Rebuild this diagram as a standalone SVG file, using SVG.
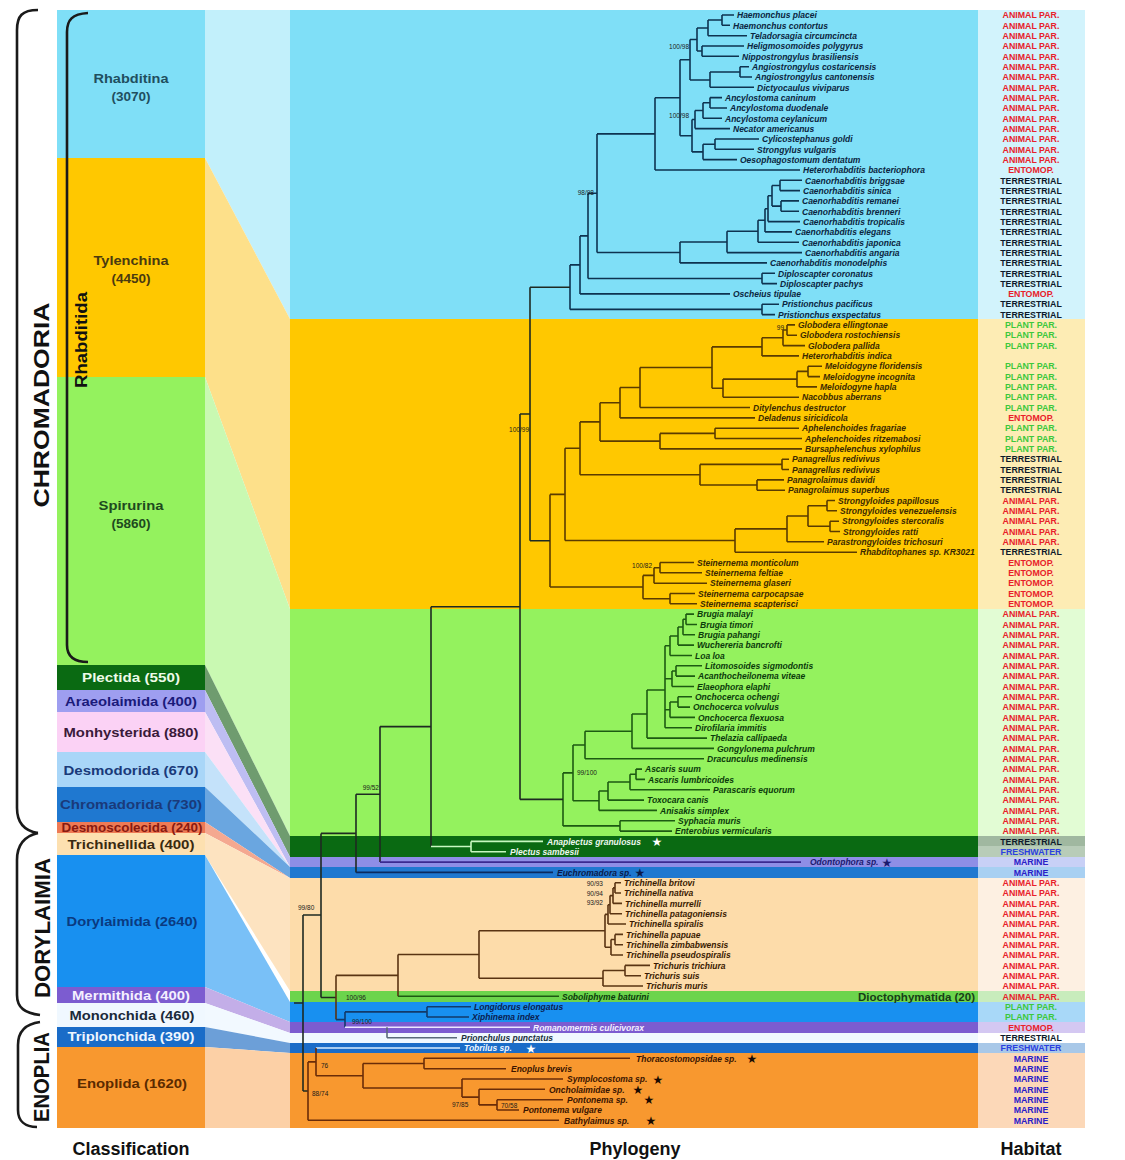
<svg xmlns="http://www.w3.org/2000/svg" width="1125" height="1160" viewBox="0 0 1125 1160">
<style>
text{font-family:"Liberation Sans",Arial,sans-serif}
.lf{font-style:italic;font-weight:bold;font-size:8.5px}
.bl{fill:#0a2540}.go{fill:#3a2800}.gr{fill:#0a3a0a}.tc{fill:#3a1a00}.en{fill:#3a1400}.wh{fill:#eef8ee}
.hb{font-weight:bold;font-size:8.8px;text-anchor:middle}
.a{fill:#e8202a}.t{fill:#0d1a2a}.p{fill:#3cc83c}.f{fill:#2a40e0}.m{fill:#2a20c8}
.cl{font-weight:bold;font-size:13.5px;text-anchor:middle}
.big{font-weight:bold;font-size:22px;text-anchor:middle;fill:#111}
.ft{font-weight:bold;font-size:18px;text-anchor:middle;fill:#111}
.bs{font-size:6.5px;fill:#1a1a1a}
.st{font-family:"DejaVu Sans",sans-serif;font-size:12px;text-anchor:middle}
.br{fill:none;stroke:#1a1a1a;stroke-width:2.6}
.tr path{fill:none;stroke-width:1.6}
</style>

<g id="classification-bands">
<rect x="57" y="10" width="148" height="148" fill="#7fdff7"/>
<rect x="57" y="158" width="148" height="219" fill="#ffc800"/>
<rect x="57" y="377" width="148" height="288" fill="#94f25e"/>
<rect x="57" y="665" width="148" height="25" fill="#0a6a12"/>
<rect x="57" y="690" width="148" height="22" fill="#9e9ef0"/>
<rect x="57" y="712" width="148" height="40" fill="#fbd2f5"/>
<rect x="57" y="752" width="148" height="35" fill="#a9d6f8"/>
<rect x="57" y="787" width="148" height="35" fill="#1f78d0"/>
<rect x="57" y="822" width="148" height="11" fill="#ee7a55"/>
<rect x="57" y="833" width="148" height="22" fill="#fde0b0"/>
<rect x="57" y="855" width="148" height="132" fill="#1890f0"/>
<rect x="57" y="987" width="148" height="16" fill="#7c5cd0"/>
<rect x="57" y="1003" width="148" height="24" fill="#f0f8ff"/>
<rect x="57" y="1027" width="148" height="20" fill="#1a6cc8"/>
<rect x="57" y="1047" width="148" height="81" fill="#f8982f"/>
</g>

<g id="transition">
<polygon points="205,10 290,10 290,319 205,158" fill="#c2f0fb"/>
<polygon points="205,158 290,319 290,609 205,377" fill="#fde08a"/>
<polygon points="205,377 290,609 290,836 205,665" fill="#c9f9b2"/>
<polygon points="205,665 290,836 290,857 205,690" fill="#6f9c6f"/>
<polygon points="205,690 290,857 290,867 205,712" fill="#bdbdf2"/>
<polygon points="205,712 290,867 205,752" fill="#fbe0f6"/>
<polygon points="205,752 290,867 205,787" fill="#c4e2fa"/>
<polygon points="205,787 290,867 290,878 205,822" fill="#6aa6e0"/>
<polygon points="205,822 290,878 205,833" fill="#f4a890"/>
<polygon points="205,833 290,878 290,991 205,855" fill="#fde3c0"/>
<polygon points="205,855 290,1002 290,1022 205,987" fill="#79c0f7"/>
<polygon points="205,987 290,1022 290,1033 205,1003" fill="#c3aee8"/>
<polygon points="205,1003 290,1033 290,1043 205,1027" fill="#f2f9ff"/>
<polygon points="205,1027 290,1043 290,1053 205,1047" fill="#6c9fd8"/>
<polygon points="205,1047 290,1053 290,1128 205,1128" fill="#fcd0a6"/>
</g>

<g id="phylogeny-bands">
<rect x="290" y="10" width="688" height="309" fill="#7fdff7"/>
<rect x="290" y="319" width="688" height="290" fill="#ffc800"/>
<rect x="290" y="609" width="688" height="227" fill="#94f25e"/>
<rect x="290" y="836" width="688" height="21" fill="#0a6a12"/>
<rect x="290" y="857" width="688" height="10" fill="#8e8ee6"/>
<rect x="290" y="867" width="688" height="11" fill="#1f78d0"/>
<rect x="290" y="878" width="688" height="113" fill="#fddcaa"/>
<rect x="290" y="991" width="688" height="11" fill="#6cd44c"/>
<rect x="290" y="1002" width="688" height="20" fill="#1890f0"/>
<rect x="290" y="1022" width="688" height="11" fill="#7c5cd0"/>
<rect x="290" y="1033" width="688" height="10" fill="#f0f8ff"/>
<rect x="290" y="1043" width="688" height="10" fill="#1a6cc8"/>
<rect x="290" y="1053" width="688" height="75" fill="#f8982f"/>
</g>

<g id="habitat-bands">
<rect x="978" y="10" width="107" height="309" fill="#d2f3fc"/>
<rect x="978" y="319" width="107" height="290" fill="#fdecb4"/>
<rect x="978" y="609" width="107" height="227" fill="#e2fcd4"/>
<rect x="978" y="836" width="107" height="10" fill="#a0b8a0"/>
<rect x="978" y="846" width="107" height="11" fill="#b8ccb8"/>
<rect x="978" y="857" width="107" height="10" fill="#c8d0f6"/>
<rect x="978" y="867" width="107" height="11" fill="#a8d0f2"/>
<rect x="978" y="878" width="107" height="113" fill="#fdf0e2"/>
<rect x="978" y="991" width="107" height="11" fill="#c8ecbc"/>
<rect x="978" y="1002" width="107" height="20" fill="#a8d8f8"/>
<rect x="978" y="1022" width="107" height="11" fill="#d4c8f2"/>
<rect x="978" y="1033" width="107" height="10" fill="#ffffff"/>
<rect x="978" y="1043" width="107" height="10" fill="#a8c8e8"/>
<rect x="978" y="1053" width="107" height="75" fill="#fcd8b8"/>
</g>

<g id="brackets">
<path class="br" d="M38,10 C22,10 17,16 17,30 L17,808 C17,824 25,831 38,833"/>
<path class="br" d="M38,833 C25,836 17,844 17,860 L17,995 C17,1008 25,1013 40,1015"/>
<path class="br" d="M40,1022 C25,1024 18,1032 18,1045 L18,1110 C18,1121 25,1127 37,1127"/>
<path class="br" d="M88,13 C72,14 67,20 67,32 L67,645 C67,656 73,662 88,662"/>
<text class="big" transform="translate(49,405) rotate(-90)" textLength="205" lengthAdjust="spacingAndGlyphs">CHROMADORIA</text>
<text class="big" transform="translate(50,928) rotate(-90)" textLength="140" lengthAdjust="spacingAndGlyphs">DORYLAIMIA</text>
<text class="big" transform="translate(49,1077) rotate(-90)" textLength="90" lengthAdjust="spacingAndGlyphs">ENOPLIA</text>
<text transform="translate(87,340) rotate(-90)" text-anchor="middle" font-weight="bold" font-size="17" fill="#111" textLength="96" lengthAdjust="spacingAndGlyphs">Rhabditida</text>
</g>

<g id="class-labels">
<g id="c-rhabditina"><text class="cl" x="131" y="83" fill="#1f4f5f" textLength="75" lengthAdjust="spacingAndGlyphs">Rhabditina</text><text class="cl" x="131" y="101" fill="#1f4f5f">(3070)</text></g>
<g id="c-tylenchina"><text class="cl" x="131" y="265" fill="#4a3a10" textLength="75" lengthAdjust="spacingAndGlyphs">Tylenchina</text><text class="cl" x="131" y="283" fill="#4a3a10">(4450)</text></g>
<g id="c-spirurina"><text class="cl" x="131" y="510" fill="#1e4a1e" textLength="65" lengthAdjust="spacingAndGlyphs">Spirurina</text><text class="cl" x="131" y="528" fill="#1e4a1e">(5860)</text></g>
<g id="c-plectida"><text class="cl" x="131" y="682" fill="#eefbe8" textLength="98" lengthAdjust="spacingAndGlyphs">Plectida (550)</text></g>
<g id="c-araeolaimida"><text class="cl" x="131" y="706" fill="#1a1a7a" textLength="132" lengthAdjust="spacingAndGlyphs">Araeolaimida (400)</text></g>
<g id="c-monhysterida"><text class="cl" x="131" y="737" fill="#3a1a3a" textLength="135" lengthAdjust="spacingAndGlyphs">Monhysterida (880)</text></g>
<g id="c-desmodorida"><text class="cl" x="131" y="775" fill="#1a3a7a" textLength="135" lengthAdjust="spacingAndGlyphs">Desmodorida (670)</text></g>
<g id="c-chromadorida"><text class="cl" x="131" y="809" fill="#1a3a7a" textLength="142" lengthAdjust="spacingAndGlyphs">Chromadorida (730)</text></g>
<g id="c-desmoscolecida"><text x="132" y="832" text-anchor="middle" font-weight="bold" font-size="12px" fill="#8a1a10" textLength="141" lengthAdjust="spacingAndGlyphs">Desmoscolecida (240)</text></g>
<g id="c-trichinellida"><text class="cl" x="131" y="849" fill="#3a2a10" textLength="127" lengthAdjust="spacingAndGlyphs">Trichinellida (400)</text></g>
<g id="c-dorylaimida"><text class="cl" x="132" y="926" fill="#0a3a80" textLength="131" lengthAdjust="spacingAndGlyphs">Dorylaimida (2640)</text></g>
<g id="c-mermithida"><text class="cl" x="131" y="1000" fill="#f4f0ff" textLength="118" lengthAdjust="spacingAndGlyphs">Mermithida (400)</text></g>
<g id="c-mononchida"><text class="cl" x="132" y="1020" fill="#1a2a3a" textLength="125" lengthAdjust="spacingAndGlyphs">Mononchida (460)</text></g>
<g id="c-triplonchida"><text class="cl" x="131" y="1041" fill="#eef6ff" textLength="127" lengthAdjust="spacingAndGlyphs">Triplonchida (390)</text></g>
<g id="c-enoplida"><text class="cl" x="132" y="1088" fill="#5a2a00" textLength="110" lengthAdjust="spacingAndGlyphs">Enoplida (1620)</text></g>
</g>

<g id="connectors" class="tr">
<path stroke="#0e3350" d="M722 15V25.3M722 15H734M722 25.3H730M708 20V35.7M708 20H722M708 35.7H747M702 46V56.3M702 46H744M702 56.3H739M697 28V51M697 28H708M697 51H702M740 66.7V77M740 66.7H749M740 77H752M710 72V87.3M710 72H740M710 87.3H754M690 39.5V80M690 39.5H697M690 80H710M710 97.6V108M710 97.6H722M710 108H727M703 102.8V118.3M703 102.8H710M703 118.3H722M695 110.5V128.6M695 110.5H703M695 128.6H730M715 139V149.3M715 139H759M715 149.3H754M703 144.2V159.6M703 144.2H715M703 159.6H737M692 119.5V151.9M692 119.5H695M692 151.9H703M680 59.8V135.7M680 59.8H690M680 135.7H692M655 97.7V170M655 97.7H680M655 170H800"/>
<path stroke="#0e3350" d="M780 180.3V190.6M780 180.3H802M780 190.6H800M781 200.9V211.3M781 200.9H799M781 211.3H799M772 185.5V206.1M772 185.5H780M772 206.1H781M768 195.8V221.6M768 195.8H772M768 221.6H800M765 208.7V231.9M765 208.7H768M765 231.9H792M758 220.3V242.3M758 220.3H765M758 242.3H799M727 231.3V252.6M727 231.3H758M727 252.6H802M680 242V262.9M680 242H727M680 262.9H767M762 273.3V283.6M762 273.3H775M762 283.6H777M762 304.2V314.6M762 304.2H779M762 314.6H775M597 133.9V252.5M597 133.9H655M597 252.5H680M588 193.2V278.5M588 193.2H597M588 278.5H762M580 235.9V293.9M580 235.9H588M580 293.9H730M570 264.9V309.4M570 264.9H580M570 309.4H762"/>
<path stroke="#5a3b00" d="M787 324.9V335.2M787 324.9H795M787 335.2H797M783 330V345.6M783 330H787M783 345.6H805M762 337.8V355.9M762 337.8H783M762 355.9H799M808 366.2V376.6M808 366.2H822M808 376.6H820M797 371.4V386.9M797 371.4H808M797 386.9H817M723 379.1V397.2M723 379.1H797M723 397.2H799M712 346.9V388.2M712 346.9H762M712 388.2H723M640 367.5V407.5M640 367.5H712M640 407.5H750M620 387.5V417.9M620 387.5H640M620 417.9H755M715 428.2V438.5M715 428.2H799M715 438.5H802M660 433.4V448.9M660 433.4H715M660 448.9H802M600 402.7V441.1M600 402.7H620M600 441.1H660"/>
<path stroke="#5a3b00" d="M782 459.2V469.5M782 459.2H789M782 469.5H789M757 479.9V490.2M757 479.9H784M757 490.2H785M700 464.4V485M700 464.4H782M700 485H757M827 500.5V510.8M827 500.5H835M827 510.8H837M830 521.2V531.5M830 521.2H839M830 531.5H840M808 505.7V526.3M808 505.7H827M808 526.3H830M787 516V541.8M787 516H808M787 541.8H824M735 528.9V552.2M735 528.9H787M735 552.2H857M660 562.5V572.8M660 562.5H694M660 572.8H702M654 567.7V583.2M654 567.7H660M654 583.2H707M670 593.5V603.8M670 593.5H695M670 603.8H697M643 575.4V598.7M643 575.4H654M643 598.7H670M580 421.9V474.7M580 421.9H600M580 474.7H700M565 448.3V540.5M565 448.3H580M565 540.5H735M550 494.4V587M550 494.4H565M550 587H643"/>
<path stroke="#1d5a12" d="M686 614.1V624.5M686 614.1H694M686 624.5H697M683 619.3V634.8M683 619.3H686M683 634.8H695M678 627V645.1M678 627H683M678 645.1H694M670 636V655.5M670 636H678M670 655.5H692M676 665.8V676.1M676 665.8H702M676 676.1H695M672 671V686.5M672 671H676M672 686.5H694M678 696.8V707.1M678 696.8H692M678 707.1H690M670 702V717.4M670 702H678M670 717.4H695M665 645.8V727.8M665 645.8H670M665 678.7H672M665 709.7H670M665 727.8H692M647 690V738.1M647 690H665M647 738.1H707M632 714V748.4M632 714H647M632 748.4H714M585 731.2V758.8M585 731.2H632M585 758.8H704M636 769.1V779.4M636 769.1H642M636 779.4H645M630 774.3V789.8M630 774.3H636M630 789.8H710M608 782V800.1M608 782H630M608 800.1H644M599 791V810.4M599 791H608M599 810.4H657M573 745V800.7M573 745H585M573 800.7H599M620 820.7V831.1M620 820.7H675M620 831.1H672M563 772.9V825.9M563 772.9H573M563 825.9H620"/>
<path stroke="#1e2a22" d="M530 287.2V540.7M530 287.2H570M530 540.7H550M520 414V799.4M520 414H530M520 799.4H563M431 606.7V846.5M431 606.7H520M380 726.6V862.1M380 726.6H431M356 794.3V872.4M356 794.3H380M321 833.4V997.5M321 833.4H356M321 997.5H336M303 915V1091M303 915H321M303 1091H308M294 1003H303"/>
<path stroke="#c8f8c0" d="M431 846.5H471M471 841.4V851.7M471 841.4H543M471 851.7H506"/>
<path stroke="#3a2a90" d="M380 862.1H801"/>
<path stroke="#0a2a60" d="M356 872.4H553"/>
<path stroke="#5a3412" d="M615 882.7V893M615 882.7H621M615 893H621M613 887.9V903.4M613 887.9H615M613 903.4H622M610 895.6V913.7M610 895.6H613M610 913.7H622M608 904.7V924M608 904.7H610M608 924H626M615 934.4V944.7M615 934.4H623M615 944.7H623M611 939.5V955M611 939.5H615M611 955H623M605 914.4V947.3M605 914.4H608M605 947.3H611M625 965.4V975.7M625 965.4H650M625 975.7H641M603 970.5V986M603 970.5H625M603 986H643M479 930.8V978.3M479 930.8H605M479 978.3H603M398 954.5V996.3M398 954.5H479M336 975.4V1019.6M336 975.4H398"/>
<path stroke="#1d5a12" d="M398 996.3H559"/>
<path stroke="#123a6a" d="M427 1006.7V1017M427 1006.7H471M427 1017H469M345 1011.9V1027.3M345 1011.9H427M336 1019.6H345"/>
<path stroke="#ece6ff" d="M345 1027.3H530"/>
<path stroke="#5a6a7a" d="M387 1027.3V1037.7M387 1037.7H457"/>
<path stroke="#d8ecff" d="M316 1048H460"/>
<path stroke="#6a2c08" d="M424 1058.3V1068.7M424 1058.3H630M424 1068.7H506M497 1099.7V1110M497 1099.7H563M497 1110H519M479 1089.3V1104.9M479 1089.3H545M479 1104.9H497M462 1079V1097.1M462 1079H563M462 1097.1H479M363 1063.5V1088M363 1063.5H424M363 1088H462M316 1048V1075.8M316 1075.8H363M308 1061.9V1120.3M308 1061.9H316M308 1120.3H559"/>
</g>

<g id="support-values" class="bs">
<text x="689" y="49" text-anchor="end">100/98</text>
<text x="689" y="118" text-anchor="end">100/98</text>
<text x="594" y="195" text-anchor="end">98/98</text>
<text x="784" y="330" text-anchor="end">99</text>
<text x="529" y="432" text-anchor="end">100/99</text>
<text x="652" y="568" text-anchor="end">100/82</text>
<text x="577" y="775">99/100</text>
<text x="379" y="790" text-anchor="end">99/52</text>
<text x="298" y="910">99/80</text>
<text x="603" y="886" text-anchor="end">90/93</text>
<text x="603" y="896" text-anchor="end">90/94</text>
<text x="603" y="905" text-anchor="end">93/92</text>
<text x="346" y="1000">100/96</text>
<text x="352" y="1024">99/100</text>
<text x="321" y="1068">76</text>
<text x="312" y="1096">88/74</text>
<text x="452" y="1107">97/85</text>
<text x="501" y="1108">70/58</text>
</g>

<g id="rhabditina-leaves" class="lf bl">
<text x="737" y="18.2">Haemonchus placei</text>
<text x="733" y="28.5">Haemonchus contortus</text>
<text x="750" y="38.9">Teladorsagia circumcincta</text>
<text x="747" y="49.2">Heligmosomoides polygyrus</text>
<text x="742" y="59.5">Nippostrongylus brasiliensis</text>
<text x="752" y="69.9">Angiostrongylus costaricensis</text>
<text x="755" y="80.2">Angiostrongylus cantonensis</text>
<text x="757" y="90.5">Dictyocaulus viviparus</text>
<text x="725" y="100.8">Ancylostoma caninum</text>
<text x="730" y="111.2">Ancylostoma duodenale</text>
<text x="725" y="121.5">Ancylostoma ceylanicum</text>
<text x="733" y="131.8">Necator americanus</text>
<text x="762" y="142.2">Cylicostephanus goldi</text>
<text x="757" y="152.5">Strongylus vulgaris</text>
<text x="740" y="162.8">Oesophagostomum dentatum</text>
<text x="803" y="173.2">Heterorhabditis bacteriophora</text>
<text x="805" y="183.5">Caenorhabditis briggsae</text>
<text x="803" y="193.8">Caenorhabditis sinica</text>
<text x="802" y="204.1">Caenorhabditis remanei</text>
<text x="802" y="214.5">Caenorhabditis brenneri</text>
<text x="803" y="224.8">Caenorhabditis tropicalis</text>
<text x="795" y="235.1">Caenorhabditis elegans</text>
<text x="802" y="245.5">Caenorhabditis japonica</text>
<text x="805" y="255.8">Caenorhabditis angaria</text>
<text x="770" y="266.1">Caenorhabditis monodelphis</text>
<text x="778" y="276.5">Diploscapter coronatus</text>
<text x="780" y="286.8">Diploscapter pachys</text>
<text x="733" y="297.1">Oscheius tipulae</text>
<text x="782" y="307.4">Pristionchus pacificus</text>
<text x="778" y="317.8">Pristionchus exspectatus</text>
</g>

<g id="tylenchina-leaves" class="lf go">
<text x="798" y="328.1">Globodera ellingtonae</text>
<text x="800" y="338.4">Globodera rostochiensis</text>
<text x="808" y="348.8">Globodera pallida</text>
<text x="802" y="359.1">Heterorhabditis indica</text>
<text x="825" y="369.4">Meloidogyne floridensis</text>
<text x="823" y="379.8">Meloidogyne incognita</text>
<text x="820" y="390.1">Meloidogyne hapla</text>
<text x="802" y="400.4">Nacobbus aberrans</text>
<text x="753" y="410.7">Ditylenchus destructor</text>
<text x="758" y="421.1">Deladenus siricidicola</text>
<text x="802" y="431.4">Aphelenchoides fragariae</text>
<text x="805" y="441.7">Aphelenchoides ritzemabosi</text>
<text x="805" y="452.1">Bursaphelenchus xylophilus</text>
<text x="792" y="462.4">Panagrellus redivivus</text>
<text x="792" y="472.7">Panagrellus redivivus</text>
<text x="787" y="483.1">Panagrolaimus davidi</text>
<text x="788" y="493.4">Panagrolaimus superbus</text>
<text x="838" y="503.7">Strongyloides papillosus</text>
<text x="840" y="514">Strongyloides venezuelensis</text>
<text x="842" y="524.4">Strongyloides stercoralis</text>
<text x="843" y="534.7">Strongyloides ratti</text>
<text x="827" y="545">Parastrongyloides trichosuri</text>
<text x="860" y="555.4">Rhabditophanes sp. KR3021</text>
<text x="697" y="565.7">Steinernema monticolum</text>
<text x="705" y="576">Steinernema feltiae</text>
<text x="710" y="586.4">Steinernema glaseri</text>
<text x="698" y="596.7">Steinernema carpocapsae</text>
<text x="700" y="607">Steinernema scapterisci</text>
</g>

<g id="spirurina-leaves" class="lf gr">
<text x="697" y="617.3">Brugia malayi</text>
<text x="700" y="627.7">Brugia timori</text>
<text x="698" y="638">Brugia pahangi</text>
<text x="697" y="648.3">Wuchereria bancrofti</text>
<text x="695" y="658.7">Loa loa</text>
<text x="705" y="669">Litomosoides sigmodontis</text>
<text x="698" y="679.3">Acanthocheilonema viteae</text>
<text x="697" y="689.7">Elaeophora elaphi</text>
<text x="695" y="700">Onchocerca ochengi</text>
<text x="693" y="710.3">Onchocerca volvulus</text>
<text x="698" y="720.6">Onchocerca flexuosa</text>
<text x="695" y="731">Dirofilaria immitis</text>
<text x="710" y="741.3">Thelazia callipaeda</text>
<text x="717" y="751.6">Gongylonema pulchrum</text>
<text x="707" y="762">Dracunculus medinensis</text>
<text x="645" y="772.3">Ascaris suum</text>
<text x="648" y="782.6">Ascaris lumbricoides</text>
<text x="713" y="793">Parascaris equorum</text>
<text x="647" y="803.3">Toxocara canis</text>
<text x="660" y="813.6">Anisakis simplex</text>
<text x="678" y="823.9">Syphacia muris</text>
<text x="675" y="834.3">Enterobius vermicularis</text>
</g>

<g id="plectida-leaves" class="lf wh">
<text x="547" y="844.6">Anaplectus granulosus</text>
<text class="st" x="657" y="846" fill="#ffffff">★</text>
<text x="510" y="854.9">Plectus sambesii</text>
</g>
<g id="araeolaimida-leaf" class="lf"><text x="810" y="865.3" fill="#1a1a6e">Odontophora sp.</text><text class="st" x="887" y="866.5" fill="#1a1a6e">★</text></g>
<g id="chromadorida-leaf" class="lf"><text x="557" y="875.6" fill="#0a1a4a">Euchromadora sp.</text><text class="st" x="640" y="877" fill="#0a1a4a">★</text></g>

<g id="trichinellida-leaves" class="lf tc">
<text x="624" y="885.9">Trichinella britovi</text>
<text x="624" y="896.2">Trichinella nativa</text>
<text x="625" y="906.6">Trichinella murrelli</text>
<text x="625" y="916.9">Trichinella patagoniensis</text>
<text x="629" y="927.2">Trichinella spiralis</text>
<text x="626" y="937.6">Trichinella papuae</text>
<text x="626" y="947.9">Trichinella zimbabwensis</text>
<text x="626" y="958.2">Trichinella pseudospiralis</text>
<text x="653" y="968.6">Trichuris trichiura</text>
<text x="644" y="978.9">Trichuris suis</text>
<text x="646" y="989.2">Trichuris muris</text>
</g>
<g id="dioctophymatida" class="lf gr">
<text x="562" y="999.5">Soboliphyme baturini</text>
<text x="975" y="1001" text-anchor="end" font-style="normal" font-size="11.5px" fill="#173d17">Dioctophymatida (20)</text>
</g>
<g id="dorylaimida-leaves" class="lf" fill="#0a2050">
<text x="474" y="1009.9">Longidorus elongatus</text>
<text x="472" y="1020.2">Xiphinema index</text>
</g>
<g id="mermithida-leaf" class="lf"><text x="533" y="1030.5" fill="#f4f0ff">Romanomermis culicivorax</text></g>
<g id="mononchida-leaf" class="lf"><text x="461" y="1040.9" fill="#203040">Prionchulus punctatus</text></g>
<g id="triplonchida-leaf" class="lf"><text x="464" y="1051.2" fill="#eef6ff">Tobrilus sp.</text><text class="st" x="531" y="1052.5" fill="#ffffff">★</text></g>
<g id="enoplida-leaves" class="lf en">
<text x="636" y="1061.5">Thoracostomopsidae sp.</text><text class="st" x="752" y="1063" fill="#1a0a00">★</text>
<text x="511" y="1071.9">Enoplus brevis</text>
<text x="567" y="1082.2">Symplocostoma sp.</text><text class="st" x="658" y="1083.5" fill="#1a0a00">★</text>
<text x="549" y="1092.5">Oncholaimidae sp.</text><text class="st" x="638" y="1094" fill="#1a0a00">★</text>
<text x="567" y="1102.9">Pontonema sp.</text><text class="st" x="649" y="1104.3" fill="#1a0a00">★</text>
<text x="523" y="1113.2">Pontonema vulgare</text>
<text x="564" y="1123.5">Bathylaimus sp.</text><text class="st" x="651" y="1125" fill="#1a0a00">★</text>
</g>

<g id="habitat" class="hb">
<text class="a" x="1031" y="18.2">ANIMAL PAR.</text>
<text class="a" x="1031" y="28.5">ANIMAL PAR.</text>
<text class="a" x="1031" y="38.9">ANIMAL PAR.</text>
<text class="a" x="1031" y="49.2">ANIMAL PAR.</text>
<text class="a" x="1031" y="59.5">ANIMAL PAR.</text>
<text class="a" x="1031" y="69.9">ANIMAL PAR.</text>
<text class="a" x="1031" y="80.2">ANIMAL PAR.</text>
<text class="a" x="1031" y="90.5">ANIMAL PAR.</text>
<text class="a" x="1031" y="100.8">ANIMAL PAR.</text>
<text class="a" x="1031" y="111.2">ANIMAL PAR.</text>
<text class="a" x="1031" y="121.5">ANIMAL PAR.</text>
<text class="a" x="1031" y="131.8">ANIMAL PAR.</text>
<text class="a" x="1031" y="142.2">ANIMAL PAR.</text>
<text class="a" x="1031" y="152.5">ANIMAL PAR.</text>
<text class="a" x="1031" y="162.8">ANIMAL PAR.</text>
<text class="a" x="1031" y="173.2">ENTOMOP.</text>
<text class="t" x="1031" y="183.5">TERRESTRIAL</text>
<text class="t" x="1031" y="193.8">TERRESTRIAL</text>
<text class="t" x="1031" y="204.1">TERRESTRIAL</text>
<text class="t" x="1031" y="214.5">TERRESTRIAL</text>
<text class="t" x="1031" y="224.8">TERRESTRIAL</text>
<text class="t" x="1031" y="235.1">TERRESTRIAL</text>
<text class="t" x="1031" y="245.5">TERRESTRIAL</text>
<text class="t" x="1031" y="255.8">TERRESTRIAL</text>
<text class="t" x="1031" y="266.1">TERRESTRIAL</text>
<text class="t" x="1031" y="276.5">TERRESTRIAL</text>
<text class="t" x="1031" y="286.8">TERRESTRIAL</text>
<text class="a" x="1031" y="297.1">ENTOMOP.</text>
<text class="t" x="1031" y="307.4">TERRESTRIAL</text>
<text class="t" x="1031" y="317.8">TERRESTRIAL</text>
<text class="p" x="1031" y="328.1">PLANT PAR.</text>
<text class="p" x="1031" y="338.4">PLANT PAR.</text>
<text class="p" x="1031" y="348.8">PLANT PAR.</text>
<text class="p" x="1031" y="369.4">PLANT PAR.</text>
<text class="p" x="1031" y="379.8">PLANT PAR.</text>
<text class="p" x="1031" y="390.1">PLANT PAR.</text>
<text class="p" x="1031" y="400.4">PLANT PAR.</text>
<text class="p" x="1031" y="410.7">PLANT PAR.</text>
<text class="a" x="1031" y="421.1">ENTOMOP.</text>
<text class="p" x="1031" y="431.4">PLANT PAR.</text>
<text class="p" x="1031" y="441.7">PLANT PAR.</text>
<text class="p" x="1031" y="452.1">PLANT PAR.</text>
<text class="t" x="1031" y="462.4">TERRESTRIAL</text>
<text class="t" x="1031" y="472.7">TERRESTRIAL</text>
<text class="t" x="1031" y="483.1">TERRESTRIAL</text>
<text class="t" x="1031" y="493.4">TERRESTRIAL</text>
<text class="a" x="1031" y="503.7">ANIMAL PAR.</text>
<text class="a" x="1031" y="514">ANIMAL PAR.</text>
<text class="a" x="1031" y="524.4">ANIMAL PAR.</text>
<text class="a" x="1031" y="534.7">ANIMAL PAR.</text>
<text class="a" x="1031" y="545">ANIMAL PAR.</text>
<text class="t" x="1031" y="555.4">TERRESTRIAL</text>
<text class="a" x="1031" y="565.7">ENTOMOP.</text>
<text class="a" x="1031" y="576">ENTOMOP.</text>
<text class="a" x="1031" y="586.4">ENTOMOP.</text>
<text class="a" x="1031" y="596.7">ENTOMOP.</text>
<text class="a" x="1031" y="607">ENTOMOP.</text>
<text class="a" x="1031" y="617.3">ANIMAL PAR.</text>
<text class="a" x="1031" y="627.7">ANIMAL PAR.</text>
<text class="a" x="1031" y="638">ANIMAL PAR.</text>
<text class="a" x="1031" y="648.3">ANIMAL PAR.</text>
<text class="a" x="1031" y="658.7">ANIMAL PAR.</text>
<text class="a" x="1031" y="669">ANIMAL PAR.</text>
<text class="a" x="1031" y="679.3">ANIMAL PAR.</text>
<text class="a" x="1031" y="689.7">ANIMAL PAR.</text>
<text class="a" x="1031" y="700">ANIMAL PAR.</text>
<text class="a" x="1031" y="710.3">ANIMAL PAR.</text>
<text class="a" x="1031" y="720.6">ANIMAL PAR.</text>
<text class="a" x="1031" y="731">ANIMAL PAR.</text>
<text class="a" x="1031" y="741.3">ANIMAL PAR.</text>
<text class="a" x="1031" y="751.6">ANIMAL PAR.</text>
<text class="a" x="1031" y="762">ANIMAL PAR.</text>
<text class="a" x="1031" y="772.3">ANIMAL PAR.</text>
<text class="a" x="1031" y="782.6">ANIMAL PAR.</text>
<text class="a" x="1031" y="793">ANIMAL PAR.</text>
<text class="a" x="1031" y="803.3">ANIMAL PAR.</text>
<text class="a" x="1031" y="813.6">ANIMAL PAR.</text>
<text class="a" x="1031" y="823.9">ANIMAL PAR.</text>
<text class="a" x="1031" y="834.3">ANIMAL PAR.</text>
<text class="t" x="1031" y="844.6">TERRESTRIAL</text>
<text class="f" x="1031" y="854.9">FRESHWATER</text>
<text class="m" x="1031" y="865.3">MARINE</text>
<text class="m" x="1031" y="875.6">MARINE</text>
<text class="a" x="1031" y="885.9">ANIMAL PAR.</text>
<text class="a" x="1031" y="896.2">ANIMAL PAR.</text>
<text class="a" x="1031" y="906.6">ANIMAL PAR.</text>
<text class="a" x="1031" y="916.9">ANIMAL PAR.</text>
<text class="a" x="1031" y="927.2">ANIMAL PAR.</text>
<text class="a" x="1031" y="937.6">ANIMAL PAR.</text>
<text class="a" x="1031" y="947.9">ANIMAL PAR.</text>
<text class="a" x="1031" y="958.2">ANIMAL PAR.</text>
<text class="a" x="1031" y="968.6">ANIMAL PAR.</text>
<text class="a" x="1031" y="978.9">ANIMAL PAR.</text>
<text class="a" x="1031" y="989.2">ANIMAL PAR.</text>
<text class="a" x="1031" y="999.5">ANIMAL PAR.</text>
<text class="p" x="1031" y="1009.9">PLANT PAR.</text>
<text class="p" x="1031" y="1020.2">PLANT PAR.</text>
<text class="a" x="1031" y="1030.5">ENTOMOP.</text>
<text class="t" x="1031" y="1040.9">TERRESTRIAL</text>
<text class="f" x="1031" y="1051.2">FRESHWATER</text>
<text class="m" x="1031" y="1061.5">MARINE</text>
<text class="m" x="1031" y="1071.9">MARINE</text>
<text class="m" x="1031" y="1082.2">MARINE</text>
<text class="m" x="1031" y="1092.5">MARINE</text>
<text class="m" x="1031" y="1102.9">MARINE</text>
<text class="m" x="1031" y="1113.2">MARINE</text>
<text class="m" x="1031" y="1123.5">MARINE</text>
</g>

<g id="footer">
<text class="ft" x="131" y="1155">Classification</text>
<text class="ft" x="635" y="1155">Phylogeny</text>
<text class="ft" x="1031" y="1155">Habitat</text>
</g>
</svg>
